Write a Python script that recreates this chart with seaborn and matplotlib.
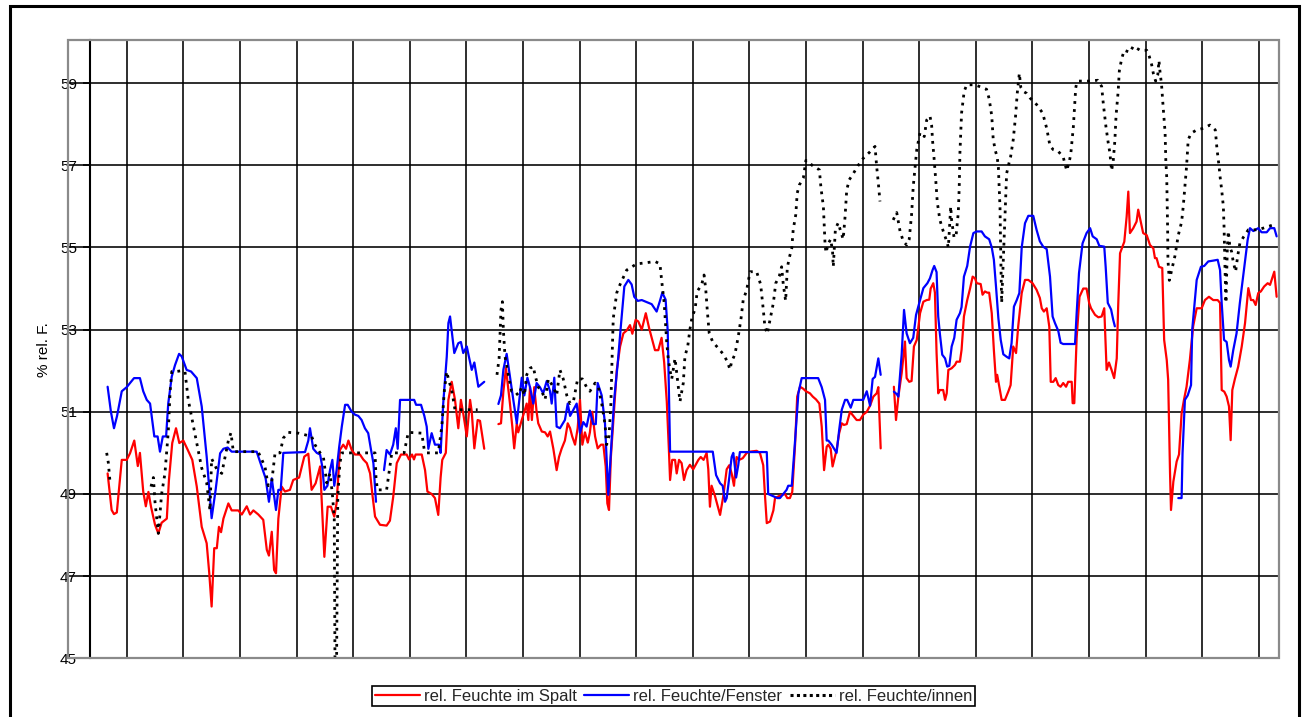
import numpy as np
import pandas as pd
import matplotlib
matplotlib.use("Agg")
import matplotlib.pyplot as plt
from matplotlib.lines import Line2D
from matplotlib.patches import Rectangle
import seaborn as sns

# ---------------------------------------------------------------- data
SERIES_NAMES = ["rel. Feuchte im Spalt", "rel. Feuchte/Fenster", "rel. Feuchte/innen"]
Y_TICKS = [45, 47, 49, 51, 53, 55, 57, 59]
DAY_LINES_H = list(range(0, 481, 24))      # one vertical grid line per day (hours)

# (time in hours, % rel. humidity); None = gap in the record
RED = [
    (-8.1,49.5),(-6.4,48.61),(-5.4,48.51),(-4.2,48.55),(-2.1,49.83),(0.0,49.83),(1.4,49.99),(3.2,50.3),(4.7,49.68),(5.6,50.0),
    (7.0,49.06),(8.1,48.7),(9.2,49.05),(10.3,48.69),(12.0,48.25),(13.4,48.04),(14.8,48.3),(17.0,48.4),(17.9,49.34),(19.3,50.24),
    (20.9,50.6),(22.3,50.24),(24.0,50.3),(25.9,50.07),(27.8,49.83),(29.7,49.18),(31.8,48.2),(33.9,47.8),(35.0,47.07),(36.0,46.26),
    (37.1,47.68),(38.2,47.68),(39.1,48.2),(40.0,48.07),(41.0,48.4),(43.1,48.77),(44.5,48.6),(47.3,48.6),(48.8,48.5),(50.9,48.7),
    (52.3,48.5),(53.7,48.6),(55.8,48.5),(57.9,48.37),(59.4,47.64),(60.3,47.5),(61.5,48.08),(62.5,47.15),(63.3,47.07),(64.3,48.4),
    (65.7,49.18),(67.1,49.06),(69.2,49.1),(70.6,49.34),(73.1,49.4),(75.3,49.91),(77.0,49.98),(78.4,49.1),(80.1,49.26),(82.0,49.67),
    (83.8,47.47),(85.2,48.69),(86.6,48.69),(88.0,48.45),(89.0,48.78),(90.4,50.07),(91.8,50.2),(93.0,50.1),(94.0,50.3),(95.4,50.07),
    (96.8,49.96),(98.9,49.96),(100.3,49.84),(101.8,49.75),(103.2,49.5),(104.1,49.02),(105.3,48.45),(107.4,48.25),(110.2,48.23),(111.6,48.35),
    (113.0,48.93),(114.5,49.75),(116.3,49.96),(118.7,49.96),(119.7,49.84),(121.0,49.96),(121.8,49.84),(122.5,49.96),(125.1,49.96),(126.5,49.58),
    (127.5,49.06),(129.3,49.0),(130.7,48.9),(132.1,48.49),(133.1,49.4),(133.8,49.83),(135.3,50.0),(136.4,51.29),(137.8,51.73),(139.2,51.29),
    (140.6,50.6),(141.7,51.29),(142.7,50.96),(144.2,50.4),(145.6,51.29),(146.3,51.0),(147.4,50.11),(148.8,50.8),(149.8,50.78),(151.6,50.1),
    None,
    (157.6,50.7),(158.7,50.72),(159.7,51.49),(160.8,52.06),(162.5,51.2),(163.5,50.64),(164.3,50.11),(165.4,50.72),(166.0,50.5),(167.5,50.8),
    (168.6,51.0),(169.6,51.2),(170.3,50.8),(171.0,51.6),(171.8,50.8),(172.8,51.6),(173.8,51.0),(174.5,50.72),(176.0,50.52),(177.4,50.5),
    (178.5,50.4),(179.5,50.52),(180.9,50.1),(182.3,49.58),(183.3,49.9),(184.4,50.1),(185.8,50.3),(187.0,50.72),(188.0,50.6),(188.9,50.4),
    (190.1,50.2),(191.2,50.6),(192.2,51.29),(193.2,50.2),(194.3,50.5),(195.5,50.25),(196.4,50.5),(197.4,51.0),(198.6,50.4),(199.7,50.11),
    (201.1,50.2),(202.1,50.2),(203.1,49.67),(203.8,48.77),(204.5,48.61),(205.3,49.9),(206.6,51.0),(207.8,52.02),(209.2,52.59),(210.6,52.91),
    (212.0,52.98),(213.4,53.11),(214.4,52.9),(215.8,53.24),(216.9,53.2),(218.4,53.0),(220.1,53.4),(221.5,53.04),(222.6,52.8),(224.0,52.5),
    (225.4,52.5),(226.8,52.8),(227.9,52.2),(229.0,51.25),(229.9,50.07),(230.4,49.34),(231.3,49.83),(232.5,49.83),(233.2,49.5),(234.2,49.83),
    (235.3,49.75),(236.3,49.34),(237.4,49.58),(238.8,49.71),(240.2,49.6),(242.4,49.83),(243.4,49.9),(244.6,49.83),(245.9,50.0),(246.6,49.6),
    (247.3,48.69),(248.0,49.2),(249.4,48.96),(251.6,48.49),(253.0,48.96),(254.4,49.6),(255.5,49.7),(256.5,49.5),(257.5,49.2),(258.6,49.9),
    (259.7,49.83),(261.2,49.87),(262.9,50.0),(264.3,50.03),(267.1,50.05),(268.5,50.0),(269.9,49.7),(270.6,49.0),(271.4,48.29),(272.8,48.33),
    (274.2,48.6),(274.9,48.9),(277.0,48.96),(279.1,49.0),(280.1,48.9),(281.2,48.9),(282.2,49.05),(283.4,50.2),(284.3,51.37),(285.5,51.61),
    (286.9,51.56),(288.0,51.5),(289.7,51.45),(290.9,51.37),(292.3,51.3),(293.7,51.2),(294.7,50.64),(295.7,49.58),(296.8,50.15),(297.5,50.2),
    (298.5,50.1),(299.3,49.67),(300.3,49.9),(301.0,50.07),(302.1,50.48),(303.2,50.72),(304.1,50.68),(305.3,50.7),(306.7,51.0),(308.1,50.9),
    (309.5,50.8),(310.9,50.8),(312.3,50.93),(313.8,51.0),(315.2,51.15),(316.6,51.37),(318.0,51.45),(318.7,51.6),(319.7,50.11),
    None,
    (325.3,51.61),(326.2,50.8),(327.2,51.37),(328.6,51.94),(330.0,52.71),(330.7,51.82),(331.8,51.73),(332.8,51.75),(333.8,52.59),(335.0,52.75),
    (336.4,53.4),(337.8,53.68),(339.2,53.72),(340.3,53.73),(340.9,54.0),(342.0,54.13),(342.7,53.9),(343.4,52.43),(344.1,51.45),(344.8,51.53),
    (346.2,51.53),(347.0,51.29),(347.7,51.45),(348.4,52.02),(349.8,52.06),(351.2,52.14),(351.9,52.22),(353.3,52.22),(354.0,52.51),(355.0,53.32),
    (356.4,53.72),(357.6,54.0),(358.7,54.29),(359.7,54.25),(360.4,54.13),(362.1,54.11),(362.9,53.85),(363.9,53.93),(364.9,53.9),(365.7,53.9),
    (366.8,53.4),(367.7,52.5),(368.6,51.73),(369.1,51.9),(370.0,51.61),(371.0,51.29),(372.4,51.29),(373.8,51.49),(374.8,51.65),(375.9,52.59),
    (377.1,52.43),(378.0,53.07),(379.5,53.89),(380.9,54.21),(382.3,54.21),(384.1,54.13),(385.8,53.97),(387.2,53.77),(388.0,53.52),(388.9,53.44),
    (390.1,53.52),(391.2,53.07),(391.8,51.73),(392.9,51.73),(393.9,51.82),(395.0,51.65),(396.0,51.61),(397.1,51.7),(398.3,51.61),(399.2,51.73),
    (400.7,51.73),(401.1,51.21),(401.8,51.21),(402.8,52.8),(404.0,53.8),(405.6,54.0),(407.0,54.0),(408.1,53.65),(408.9,53.52),(410.6,53.36),
    (412.0,53.3),(413.4,53.32),(414.5,53.52),(415.5,52.02),(416.5,52.2),(417.6,52.02),(418.7,51.82),(419.8,52.3),(420.4,53.56),(421.2,54.86),
    (423.0,55.14),(424.0,55.75),(424.7,56.36),(425.4,55.35),(426.8,55.47),(428.2,55.63),(428.9,55.92),(430.1,55.6),(431.0,55.35),(432.5,55.3),
    (433.9,55.06),(435.3,54.98),(436.0,54.74),(436.7,54.74),(437.7,54.53),(439.1,54.5),(439.9,52.75),(441.0,52.26),(441.6,51.78),(442.4,49.5),
    (442.8,48.61),(443.8,49.3),(445.2,49.79),(446.2,49.96),(447.3,50.96),(448.3,51.29),(449.4,51.61),(450.8,52.26),(452.2,53.08),(453.7,53.52),
    (455.8,53.52),(457.2,53.72),(458.9,53.8),(460.7,53.72),(462.6,53.72),(463.6,53.65),(464.3,51.53),(465.4,51.49),(466.4,51.37),(467.4,51.13),
    (468.1,50.31),(468.8,51.53),(469.9,51.8),(471.3,52.1),(472.8,52.59),(474.2,53.16),(475.6,54.01),(476.7,53.72),(477.7,53.72),(478.7,53.6),
    (479.8,53.89),(480.9,53.93),(482.3,54.05),(483.8,54.13),(484.8,54.09),(486.6,54.41),(487.6,53.8),
]

BLUE = [
    (-8.1,51.61),(-6.7,51.0),(-5.4,50.6),(-4.1,50.9),(-2.1,51.5),(0.0,51.6),(1.4,51.7),(3.1,51.82),(5.6,51.82),(7.0,51.5),
    (8.5,51.29),(9.9,51.2),(11.7,50.4),(13.1,50.4),(14.1,50.03),(15.3,50.4),(16.7,50.4),(17.6,51.2),(19.1,51.86),(20.5,52.14),
    (22.2,52.41),(23.3,52.35),(25.4,52.02),(27.3,51.98),(29.7,51.82),(31.8,51.13),(33.9,49.91),(36.0,48.41),(37.7,49.1),(39.6,49.99),
    (41.0,50.1),(42.8,50.13),(44.5,50.03),(55.1,50.03),(57.2,49.67),(58.9,49.38),(60.3,48.81),(61.5,49.38),(63.3,48.61),(64.3,49.1),
    (65.3,49.1),(66.4,50.0),(75.6,50.02),(77.0,50.3),(77.7,50.6),(79.1,50.1),(80.6,50.0),(82.0,49.96),(82.9,49.67),(83.8,49.1),
    (85.1,49.2),(86.2,49.58),(87.2,49.83),(88.0,49.2),(89.0,49.58),(90.1,50.15),(91.2,50.64),(92.6,51.17),(93.7,51.17),(95.4,51.0),
    (96.8,50.93),(98.2,50.9),(99.6,50.8),(101.0,50.6),(102.4,50.48),(103.6,50.07),(104.6,49.75),(105.7,48.81),
    None,
    (109.1,49.58),(110.2,50.07),(111.6,49.96),(113.0,50.2),(114.1,50.6),(114.9,50.1),(115.9,51.29),(121.9,51.29),(122.7,51.17),(124.8,51.17),
    (126.2,50.9),(127.2,50.64),(127.9,50.1),(129.3,50.48),(130.7,50.2),(132.4,50.2),(133.1,50.0),(134.2,51.2),(135.7,52.34),(136.4,53.16),
    (137.1,53.32),(138.9,52.43),(140.6,52.67),(141.7,52.7),(142.7,52.43),(144.2,52.59),(145.1,52.34),(146.3,52.02),(147.4,52.2),(149.1,51.61),
    (151.6,51.73),
    None,
    (157.6,51.19),(158.7,51.4),(159.7,52.02),(161.1,52.41),(162.5,51.86),(163.9,51.3),(165.4,50.72),(166.3,51.2),(167.5,51.83),(168.6,51.4),
    (169.9,51.83),(171.0,51.6),(172.4,51.2),(173.8,51.7),(175.2,51.6),(176.6,51.45),(178.1,51.75),(179.5,51.5),(180.2,51.2),(181.3,51.83),
    (182.3,50.64),(183.7,50.6),(185.8,50.8),(187.0,51.2),(188.0,50.9),(189.4,51.05),(190.8,51.2),(192.2,50.48),(193.6,50.75),(195.0,50.64),
    (196.4,51.03),(197.8,50.7),(198.9,50.7),(199.7,51.7),(201.4,51.4),(202.8,50.72),(204.2,48.98),(205.6,50.3),(206.7,51.3),(208.2,52.18),
    (209.5,53.07),(211.0,54.05),(212.7,54.21),(214.1,54.1),(215.2,53.8),(216.7,53.7),(218.4,53.72),(220.5,53.67),(222.6,53.62),(224.7,53.44),
    (226.1,53.7),(227.1,53.9),(228.5,53.73),(229.4,52.97),(229.9,51.53),(230.4,50.03),(248.5,50.03),(249.9,49.46),(251.6,49.26),(252.7,49.2),
    (253.7,48.81),(254.4,48.9),(255.5,49.4),(256.5,49.9),(257.2,50.0),(258.4,49.4),(259.3,49.7),(260.0,50.02),(271.4,50.02),(272.0,49.0),
    (275.9,48.9),(277.0,48.9),(278.4,49.0),(279.8,49.1),(280.5,49.2),(282.0,49.2),(283.4,50.3),(284.8,51.45),(286.2,51.82),(293.2,51.82),
    (294.7,51.6),(296.1,51.29),(296.8,50.3),(297.5,50.3),(298.9,50.2),(301.0,50.0),(302.1,50.56),(303.2,51.05),(304.6,51.29),(305.5,51.29),
    (307.0,51.1),(308.1,51.29),(312.3,51.29),(313.8,51.5),(315.2,51.15),(316.3,51.8),(317.3,51.85),(318.7,52.3),(319.7,51.9),
    None,
    (325.3,51.49),(326.5,51.43),(327.2,51.37),(328.6,52.4),(329.6,53.48),(330.7,52.91),(332.1,52.67),(333.5,52.8),(334.7,53.36),(336.4,53.72),
    (337.8,54.01),(339.5,54.13),(340.6,54.25),(341.7,54.45),(342.4,54.55),(343.4,54.4),(344.1,53.32),(344.8,52.9),(345.8,52.39),(347.0,52.3),
    (347.9,52.1),(348.8,52.12),(349.8,52.59),(350.9,52.8),(351.9,53.24),(353.3,53.4),(354.0,53.55),(355.0,54.29),(356.4,54.55),(357.6,55.02),
    (359.0,55.35),(360.4,55.39),(362.5,55.39),(363.9,55.27),(365.7,55.2),(366.8,55.0),(367.7,54.7),(368.6,54.05),(369.6,53.28),(370.6,52.75),
    (371.7,52.4),(373.1,52.34),(374.2,52.3),(375.2,52.67),(376.2,53.56),(377.4,53.72),(378.5,53.89),(379.5,55.0),(380.9,55.59),(382.3,55.77),
    (384.4,55.77),(385.8,55.43),(387.2,55.15),(388.6,55.02),(390.1,54.96),(391.5,54.29),(392.6,53.32),(393.6,53.16),(395.0,52.97),(396.0,52.68),
    (397.1,52.65),(402.1,52.65),(402.8,53.4),(403.8,54.38),(405.3,55.1),(407.0,55.35),(408.5,55.47),(409.6,55.27),(411.3,55.2),(412.4,55.04),
    (414.5,55.02),(415.1,54.53),(416.0,53.65),(417.4,53.49),(418.3,53.24),(419.0,53.08),
    None,
    (445.9,48.9),(447.3,48.9),(447.7,49.99),(448.7,51.29),(449.9,51.4),(451.3,51.65),(451.8,53.0),(453.7,54.21),(455.5,54.53),(456.9,54.55),
    (458.6,54.66),(460.7,54.68),(462.6,54.7),(463.6,54.45),(464.3,53.65),(465.3,52.75),(466.4,52.7),(467.4,52.26),(468.1,52.1),(469.2,52.5),
    (470.6,52.91),(472.0,53.65),(473.9,54.53),(475.3,55.18),(476.3,55.47),(477.7,55.4),(479.8,55.47),(481.2,55.37),(483.4,55.37),(484.8,55.47),
    (486.6,55.47),(487.6,55.27),
]

BLACK = [
    (-8.5,50.0),(-7.8,49.76),(-7.1,49.3),
    None,
    (10.3,49.18),(11.3,49.4),(12.0,48.8),(13.4,48.04),(14.8,49.0),(16.2,49.5),(17.6,50.5),(18.4,51.5),(19.1,51.98),(20.9,51.98),
    (23.3,52.0),(24.7,51.98),(26.1,51.29),(27.6,50.85),(29.0,50.44),(31.8,49.63),(33.9,49.27),(35.3,48.6),(36.0,49.86),(38.2,49.6),
    (40.3,49.5),(41.7,49.9),(43.1,50.3),(44.2,50.49),(45.2,50.03),(55.7,50.03),(58.6,49.67),(60.0,49.2),(61.5,49.3),(62.9,50.0),
    (65.0,50.0),(66.4,50.36),(68.5,50.5),(72.8,50.48),(78.4,50.4),(79.8,50.2),(82.0,50.0),(83.4,49.9),(84.8,49.27),(86.2,49.5),
    (87.2,49.0),(88.0,48.4),(88.3,45.0),(89.0,45.0),(89.5,48.93),(90.4,49.75),(91.2,50.0),(105.3,50.0),(105.7,49.4),(106.3,49.1),
    (110.2,49.1),(111.3,49.55),(112.4,50.0),(117.6,50.0),(119.4,50.5),(125.1,50.48),(126.1,50.1),(127.2,50.0),(132.1,50.0),(133.6,50.64),
    (134.7,51.53),(135.7,51.98),(136.4,51.8),(137.8,51.53),(139.2,51.05),(148.8,51.05),
    None,
    (157.0,51.9),(157.9,52.3),(158.7,53.48),(159.3,53.68),(159.7,53.0),(160.4,52.35),(161.8,51.9),(163.2,51.5),(164.6,51.5),(166.0,51.4),
    (167.5,51.6),(168.6,51.4),(169.6,51.9),(171.0,52.06),(172.4,52.1),(173.1,51.9),(174.5,51.6),(176.0,51.5),(177.4,51.3),(178.8,51.8),
    (180.9,51.6),(182.3,51.4),(183.7,52.02),(185.1,51.8),(186.6,51.4),(188.0,51.2),(189.4,51.25),(191.2,51.8),(193.2,51.8),(195.0,51.6),
    (196.4,51.5),(198.6,51.7),(200.0,51.6),(201.4,51.2),(202.8,50.7),(203.5,50.2),(204.5,50.4),(205.3,51.2),(205.9,52.5),(206.3,53.27),
    (207.8,53.9),(209.2,54.1),(212.0,54.45),(216.2,54.6),(220.5,54.63),(224.0,54.66),(226.1,54.6),(226.8,54.21),(227.9,53.65),(229.0,52.67),
    (229.6,52.3),(230.4,52.0),(231.1,51.8),(232.5,52.3),(233.9,51.6),(234.6,51.25),(236.0,51.7),(236.7,52.35),(237.9,52.6),(238.8,53.0),
    (239.7,53.3),(241.0,53.5),(241.9,53.93),(243.8,54.1),(244.8,54.33),(245.5,54.0),(246.2,53.45),(247.0,52.91),(248.5,52.7),(250.8,52.55),
    (253.0,52.4),(254.7,52.22),(255.8,52.03),(256.5,52.22),(257.9,52.4),(259.3,52.83),(260.5,53.28),(261.4,53.72),(262.9,53.97),(264.3,54.41),
    (267.1,54.41),(268.8,54.1),(269.9,53.5),(270.6,53.07),(271.6,52.9),(274.2,53.65),(275.2,54.13),(276.7,54.3),(277.7,54.53),(278.4,54.1),
    (279.4,53.7),(280.1,54.5),(280.9,54.74),(282.0,54.98),(282.6,55.43),(283.7,55.8),(284.3,56.32),(285.2,56.52),(286.9,56.69),(288.0,57.12),
    (289.0,57.1),(290.6,57.0),(293.7,56.89),(294.4,56.44),(295.4,56.0),(296.1,55.1),(296.5,54.87),(297.5,55.1),(298.5,55.2),(299.3,54.9),
    (299.6,54.53),(300.5,55.45),(301.7,55.6),(302.7,55.4),(303.8,55.2),(304.6,55.75),(305.3,56.4),(306.4,56.65),(308.1,56.8),(310.2,57.0),
    (312.3,57.17),(315.2,57.33),(317.3,57.46),(318.0,56.97),(318.7,56.57),(319.4,56.12),
    None,
    (325.0,55.67),(326.5,55.85),(327.9,55.4),(329.3,55.15),(330.7,55.06),(331.8,55.2),(332.8,55.8),(333.5,56.48),(334.2,56.9),(335.0,57.38),
    (336.4,57.8),(338.2,57.7),(339.2,58.1),(340.6,58.2),(341.3,57.98),(341.7,57.6),(342.3,57.2),(343.1,56.6),(343.7,56.1),(344.8,55.67),
    (346.2,55.4),(347.7,55.15),(348.4,55.0),(349.4,56.0),(349.8,55.65),(350.8,55.25),(351.6,55.25),(352.6,55.84),(353.0,56.45),(353.3,57.3),
    (354.0,58.27),(355.1,58.8),(356.2,58.96),(359.7,58.96),(363.2,58.88),(364.6,58.85),(365.7,58.62),(366.8,58.2),(367.4,57.65),(368.2,57.38),
    (369.1,57.2),(369.6,56.95),(370.3,55.97),(370.6,54.88),(371.0,53.65),(371.7,54.7),(372.4,55.7),(373.1,56.8),(374.1,57.05),(374.8,57.21),
    (375.9,57.62),(376.9,58.2),(377.6,58.75),(378.5,59.24),(379.1,58.9),(380.2,58.8),(381.6,58.75),(383.0,58.64),(385.8,58.48),(388.4,58.27),
    (390.1,57.9),(391.5,57.47),(392.9,57.38),(395.0,57.34),(397.1,57.2),(398.6,56.87),(399.7,57.1),(400.3,57.27),(401.4,57.94),(402.4,58.88),
    (402.8,59.0),(403.5,59.05),(408.1,59.05),(411.7,59.07),(413.4,58.92),(414.1,58.5),(415.2,57.95),(416.2,57.54),(416.9,57.3),(417.6,56.87),
    (418.3,57.1),(419.0,57.6),(419.5,58.2),(420.4,58.8),(420.9,59.3),(421.9,59.6),(423.0,59.8),(425.4,59.75),(426.8,59.9),(429.7,59.8),
    (432.5,59.8),(433.6,59.65),(434.6,59.45),(435.3,59.24),(436.3,59.05),(437.2,59.2),(437.7,59.55),(438.1,59.3),(438.8,58.96),(439.5,58.4),
    (440.3,57.8),(440.6,57.13),(441.0,56.7),(441.2,56.0),(441.4,55.35),(441.5,54.7),(442.1,54.2),(443.1,54.45),(444.5,54.8),(445.9,55.3),
    (447.3,55.62),(448.0,56.0),(448.7,56.47),(449.4,56.97),(450.1,57.62),(451.3,57.78),(453.7,57.86),(456.5,57.9),(459.3,57.98),(461.6,57.86),
    (462.3,57.4),(463.2,56.97),(463.6,56.73),(464.3,56.4),(465.0,56.0),(465.3,55.5),(465.7,54.5),(466.1,53.65),(466.7,55.0),(467.1,55.4),
    (467.8,55.0),(468.5,54.9),(469.2,54.65),(470.2,54.41),(471.1,54.8),(472.0,55.1),(473.5,55.25),(475.6,55.43),(479.8,55.43),(483.4,55.5),
    (486.2,55.55),(487.6,55.55),
]


def to_frame(points, name):
    rows, seg = [], 0
    for p in points:
        if p is None:
            seg += 1
            continue
        rows.append((p[0], p[1], seg, name))
    return pd.DataFrame(rows, columns=["t", "v", "seg", "series"])


# ---------------------------------------------------------------- style
sns.set_style("white")
plt.rcParams["font.family"] = ["Liberation Sans", "DejaVu Sans"]

W, H = 1304, 717
fig = plt.figure(figsize=(W / 100, H / 100), dpi=100)
ax = fig.add_axes([68 / W, 1 - 658.3 / H, (1279 - 68) / W, (658.3 - 40) / H])

line_styles = [
    (RED, SERIES_NAMES[0], "#ff0000", "-", 1.6),
    (BLUE, SERIES_NAMES[1], "#0000ff", "-", 1.6),
    (BLACK, SERIES_NAMES[2], "black", (0, (1, 1.9)), 2.0),
]
for pts, name, color, ls, lw in line_styles:
    df = to_frame(pts, name)
    sns.lineplot(data=df, x="t", y="v", units="seg", estimator=None, sort=False,
                 color=color, linewidth=lw, linestyle=ls, ax=ax, legend=False,
                 zorder=3)

ax.set_xlim(-24.9, 488.6)
ax.set_ylim(45, 60.05)
ax.set_xticks(DAY_LINES_H)
ax.set_yticks(Y_TICKS)
ax.set_yticklabels([str(v) for v in Y_TICKS])
ax.grid(True, color="black", linewidth=1.15)
ax.set_axisbelow(True)

ax.tick_params(axis="x", which="both", length=0, labelbottom=False, bottom=False)
ax.tick_params(axis="y", which="major", left=True, direction="out", length=4.8,
               width=1.2, color="black", pad=4.6, labelsize=11, labelcolor="black")

for s in ["top", "right", "bottom"]:
    ax.spines[s].set_visible(False)
ax.spines["left"].set_position(("data", -15.56))
ax.spines["left"].set_color("black")
ax.spines["left"].set_linewidth(1.5)

ax.add_patch(Rectangle((0, 0), 1, 1, transform=ax.transAxes, fill=False,
                       edgecolor="#8a8a8a", linewidth=1.6, clip_on=False, zorder=4))

ax.set_xlabel("")
ax.set_ylabel("% rel. F.", fontsize=11, color="black")
ax.yaxis.set_label_coords(-0.014, 0.5)

handles = [
    Line2D([], [], color="#ff0000", linewidth=1.6),
    Line2D([], [], color="#0000ff", linewidth=1.6),
    Line2D([], [], color="black", linewidth=2.2, linestyle=(0, (1, 1.1))),
]
leg = ax.legend(handles, SERIES_NAMES, loc="center", bbox_to_anchor=(0.5, -0.061),
                ncol=3, frameon=True, fancybox=False, edgecolor="black", framealpha=1,
                fontsize=12, handlelength=2.7, handletextpad=0.25, columnspacing=0.45,
                borderpad=0.15, borderaxespad=0)
leg.get_frame().set_linewidth(1.2)

fig.add_artist(Rectangle((9.5 / W, -0.02), (1298.7 - 9.5) / W, 1 - 6 / H + 0.02,
                         transform=fig.transFigure, fill=False, edgecolor="black",
                         linewidth=2.2))

fig.savefig("out.png", dpi=100)
